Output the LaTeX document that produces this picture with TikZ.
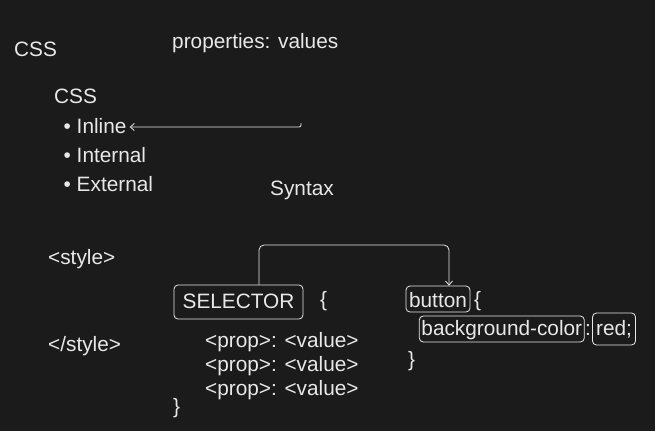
\documentclass[tikz,border=0pt]{standalone}
\usepackage{fontspec}
\setmainfont{Liberation Sans}
\usetikzlibrary{arrows.meta}
\definecolor{bg}{HTML}{1B1B1B}
\definecolor{fg}{HTML}{E8E8E8}
\begin{document}
\begin{tikzpicture}[x=1pt,y=-1pt,
  txt/.style={text=fg, inner sep=0pt, anchor=base west, font=\fontsize{20.8}{24}\selectfont},
  box/.style={draw=fg, line width=0.8pt, rounded corners=4pt, text=fg, inner sep=0pt,
    font=\fontsize{20.8}{24}\selectfont, text height=15pt, text depth=3pt},
  conn/.style={draw=fg, line width=0.8pt, rounded corners=5pt},
  tip/.style={-{Straight Barb[length=4pt,width=7pt]}}]
\fill[bg] (0,0) rectangle (655,431);
\useasboundingbox (0,0) rectangle (655,431);
\node[txt] (css1) at (14,56) {CSS};
\node[txt] (props) at (172,48) {properties: values};
\node[txt] (css2) at (54,103) {CSS};
\node[txt] (inline) at (63.5,133) {• Inline};
\node[txt] (internal) at (63.5,162) {• Internal};
\node[txt] (external) at (63.5,191) {• External};
\node[txt] (syntax) at (270,195) {Syntax};
\node[txt] (style) at (48,264) {<style>};
\node[txt] (estyle) at (48,351) {</style>};
\node[box, minimum width=129pt, minimum height=34pt] (sel) at (238.5,302) {SELECTOR};
\node[txt] (ob1) at (320,306.5) {\{};
\node[txt] (p1) at (205,347) {<prop>: <value>};
\node[txt] (p2) at (205,371) {<prop>: <value>};
\node[txt] (p3) at (205,395) {<prop>: <value>};
\node[txt] (cb1) at (173,413) {\}};
\node[box, minimum width=64pt, minimum height=26pt, text height=16pt, text depth=0pt] (btn) at (438,299) {button};
\node[txt] (ob2) at (474,306.5) {\{};
\node[box, minimum width=165pt, minimum height=26pt] (bgc) at (501.8,329) {background-color};
\node[txt] (colon) at (585,335) {:};
\node[box, minimum width=43pt, minimum height=32pt] (red) at (614,329) {red;};
\node[txt] (cb2) at (408,366) {\}};
% arrow to Inline
\coordinate (ae) at (301,123);
\coordinate (ac) at (301,127);
\draw[conn, rounded corners=2pt, tip, shorten >=3pt] (ae) -- (ac) -- (ac -| inline.east);
% selector -> button connector
\coordinate (topy) at (0,245);
\coordinate (sa) at ([xshift=20.5pt]sel.north);
\coordinate (sb) at ([xshift=11pt]btn.north);
\draw[conn, tip] (sa) -- (sa |- topy) -- (sb |- topy) -- (sb);
\end{tikzpicture}
\end{document}
